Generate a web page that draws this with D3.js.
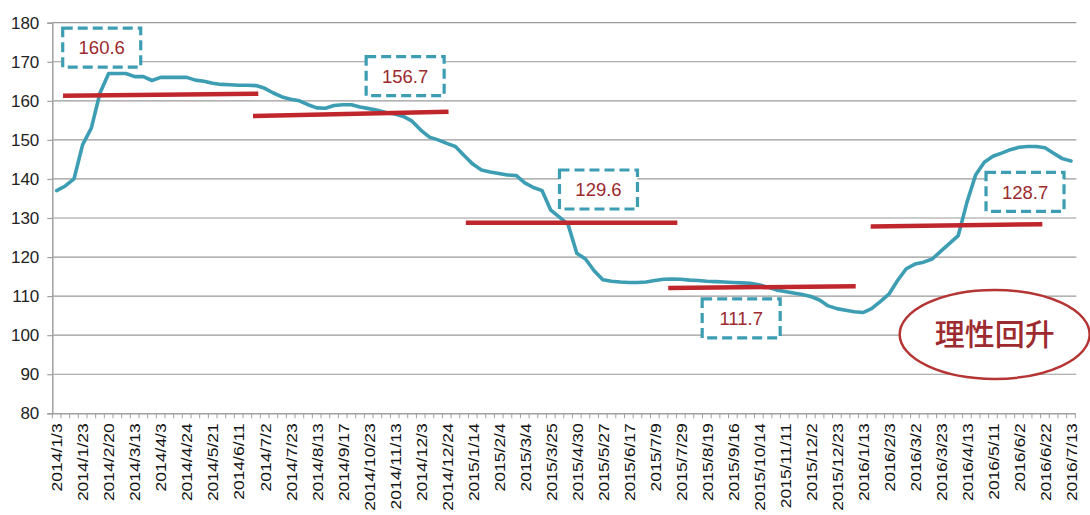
<!DOCTYPE html>
<html><head><meta charset="utf-8">
<script src="https://cdn.jsdelivr.net/npm/d3@7"></script>
<style>html,body{margin:0;padding:0;background:#fff;}svg{display:block;}</style>
</head><body>
<svg id="chart" width="1090" height="515"></svg>
<script>
const dates = [
"2014/1/3","2014/1/10","2014/1/16",
"2014/1/23","2014/1/29","2014/2/13",
"2014/2/20","2014/2/27","2014/3/6",
"2014/3/13","2014/3/20","2014/3/27",
"2014/4/3","2014/4/10","2014/4/17",
"2014/4/24","2014/5/8","2014/5/15",
"2014/5/21","2014/5/28","2014/6/5",
"2014/6/11","2014/6/18","2014/6/25",
"2014/7/2","2014/7/9","2014/7/16",
"2014/7/23","2014/7/30","2014/8/6",
"2014/8/13","2014/8/27","2014/9/3",
"2014/9/17","2014/9/24","2014/10/15",
"2014/10/23","2014/10/30","2014/11/6",
"2014/11/13","2014/11/20","2014/11/26",
"2014/12/3","2014/12/10","2014/12/17",
"2014/12/24","2014/12/31","2015/1/7",
"2015/1/14","2015/1/21","2015/1/28",
"2015/2/4","2015/2/11","2015/2/25",
"2015/3/4","2015/3/11","2015/3/18",
"2015/3/25","2015/4/8","2015/4/22",
"2015/4/30","2015/5/13","2015/5/20",
"2015/5/27","2015/6/3","2015/6/10",
"2015/6/17","2015/6/24","2015/7/1",
"2015/7/9","2015/7/15","2015/7/22",
"2015/7/29","2015/8/5","2015/8/12",
"2015/8/19","2015/8/26","2015/9/9",
"2015/9/16","2015/9/23","2015/10/8",
"2015/10/14","2015/10/28","2015/11/4",
"2015/11/11","2015/11/18","2015/11/25",
"2015/12/2","2015/12/9","2015/12/16",
"2015/12/23","2015/12/30","2016/1/6",
"2016/1/13","2016/1/20","2016/1/27",
"2016/2/3","2016/2/17","2016/2/24",
"2016/3/2","2016/3/9","2016/3/16",
"2016/3/23","2016/3/30","2016/4/6",
"2016/4/13","2016/4/20","2016/5/4",
"2016/5/11","2016/5/18","2016/5/25",
"2016/6/2","2016/6/8","2016/6/15",
"2016/6/22","2016/6/29","2016/7/6",
"2016/7/13"];

const values = [
137,138.2,140,148.8,153,162,167,167,167,166.2,
166.2,165.2,166,166,166,166,165.3,165,164.5,164.2,
164.1,164,164,163.9,163.2,162,161,160.4,160,159,
158.2,158.1,158.8,159,159,158.4,158,157.6,157,156.6,
156,154.8,152.5,150.7,150,149.1,148.3,146,143.8,142.3,
141.8,141.4,141,140.9,139,137.8,137,132,130.2,128.3,
121,119.5,116.5,114.2,113.8,113.6,113.5,113.5,113.6,114,
114.3,114.4,114.3,114.1,114,113.8,113.7,113.6,113.5,113.4,
113.3,112.9,112.3,111.6,111.2,110.8,110.4,109.9,109,107.5,
106.8,106.4,106,105.8,106.8,108.6,110.5,114,117,118.2,
118.7,119.5,121.5,123.5,125.5,134,141,144.3,145.8,146.6,
147.5,148.1,148.3,148.3,148,146.6,145.2,144.6];

const yTicks = [80,90,100,110,120,130,140,150,160,170,180];

// average-level segments: start/end category position and level
const avgStartPos = [0.74, 22.65, 47.2, 70.55, 93.9];
const avgEndPos   = [23.26, 45.2, 71.6, 92.17, 113.7];
const avgStartVal = [161.3, 156.1, 128.8, 112.1, 127.8];
const avgEndVal   = [161.8, 157.2, 128.8, 112.5, 128.4];

// annotation boxes: label text and centre (category position, value)
const boxLabels = ["160.6","156.7","129.6","111.7","128.7"];
const boxPos    = [5.2, 40.2, 62.5, 78.96, 111.7];
const boxVal    = [173.6, 166.3, 137.3, 104.3, 136.7];

const noteText = "理性回升";
const notePos = 108.2, noteVal = 100.2;

(function draw() {
const mLeft = 52.3, mRight = 1075.3, mTop = 22.7, mBottom = 413.3;
const svg = d3.select("#chart");

const x = d3.scaleBand().domain(dates).range([mLeft, mRight]).padding(0);
const xPos = d3.scaleLinear().domain([-0.5, dates.length - 0.5]).range([mLeft, mRight]);
const y = d3.scaleLinear().domain([80, 180]).range([mBottom, mTop]);

const teal = "#3d9db3", red = "#c0272d", darkRed = "#9c2a2e";

// grid
svg.append("g").selectAll("line").data(yTicks.filter(d => d > 80)).join("line")
  .attr("x1", mLeft).attr("x2", mRight + 1)
  .attr("y1", d => y(d)).attr("y2", d => y(d))
  .attr("stroke", "#9a9a9a").attr("stroke-width", 1.2);

// y axis
const yAxis = d3.axisLeft(y).tickValues(yTicks).tickSize(5).tickPadding(8);
const gy = svg.append("g").attr("transform", `translate(${mLeft},0)`).call(yAxis);
gy.select(".domain").attr("stroke", "#a0a0a0").attr("stroke-width", 1.5);
gy.selectAll(".tick line").attr("stroke", "#a0a0a0").attr("stroke-width", 1.2);
gy.selectAll("text").attr("font-family", "'Liberation Sans', Arial, sans-serif")
  .attr("font-size", 17).attr("fill", "#222");

// x axis
const xAxis = d3.axisBottom(x).tickSize(0).tickFormat((d, i) => i % 3 === 0 ? d : "");
const gx = svg.append("g").attr("transform", `translate(0,${mBottom})`).call(xAxis);
gx.select(".domain").attr("stroke", "#a0a0a0").attr("stroke-width", 1.5);
gx.selectAll(".tick text")
  .attr("font-family", "'Liberation Sans', Arial, sans-serif")
  .attr("font-size", 17.5).attr("fill", "#111")
  .attr("text-anchor", "end").attr("dy", null).attr("y", null)
  .attr("transform", "translate(5.8,10) rotate(-90) scale(1,0.86)");
// minor ticks at category boundaries
svg.append("g").selectAll("line").data(d3.range(dates.length + 1)).join("line")
  .attr("x1", i => xPos(i - 0.5)).attr("x2", i => xPos(i - 0.5))
  .attr("y1", mBottom).attr("y2", mBottom + 5)
  .attr("stroke", "#a0a0a0").attr("stroke-width", 1);

// main line
const line = d3.line().x((d, i) => x(dates[i]) + x.bandwidth() / 2).y(d => y(d));
svg.append("path").datum(values).attr("d", line)
  .attr("fill", "none").attr("stroke", teal).attr("stroke-width", 3.6)
  .attr("stroke-linejoin", "round").attr("stroke-linecap", "round");

// average segments
svg.append("g").selectAll("line").data(avgStartPos).join("line")
  .attr("x1", (d) => xPos(d)).attr("x2", (d, i) => xPos(avgEndPos[i]))
  .attr("y1", (d, i) => y(avgStartVal[i])).attr("y2", (d, i) => y(avgEndVal[i]))
  .attr("stroke", red).attr("stroke-width", 4.5);

// dashed boxes
const bw = 78, bh = 39;
const gb = svg.append("g").selectAll("g").data(boxLabels).join("g")
  .attr("transform", (d, i) => `translate(${xPos(boxPos[i])},${y(boxVal[i])})`);
gb.append("rect").attr("x", -bw / 2).attr("y", -bh / 2).attr("width", bw).attr("height", bh)
  .attr("fill", "#fff").attr("stroke", teal).attr("stroke-width", 3.2)
  .attr("stroke-dasharray", "10,5");
gb.append("text").text(d => d).attr("text-anchor", "middle").attr("dy", "0.36em")
  .attr("font-family", "'Liberation Sans', Arial, sans-serif").attr("font-size", 18.5)
  .attr("fill", darkRed);

// ellipse note
const gn = svg.append("g").attr("transform", `translate(${xPos(notePos)},${y(noteVal)})`);
gn.append("ellipse").attr("rx", 95).attr("ry", 44.5)
  .attr("fill", "#fff").attr("stroke", "#b53434").attr("stroke-width", 2.5);
gn.append("text").text(noteText).attr("text-anchor", "middle").attr("dy", "0.36em")
  .attr("font-family", "'Noto Sans CJK SC', sans-serif").attr("font-size", 30)
  .attr("font-weight", 500).attr("fill", darkRed);
})();
</script>
</body></html>
